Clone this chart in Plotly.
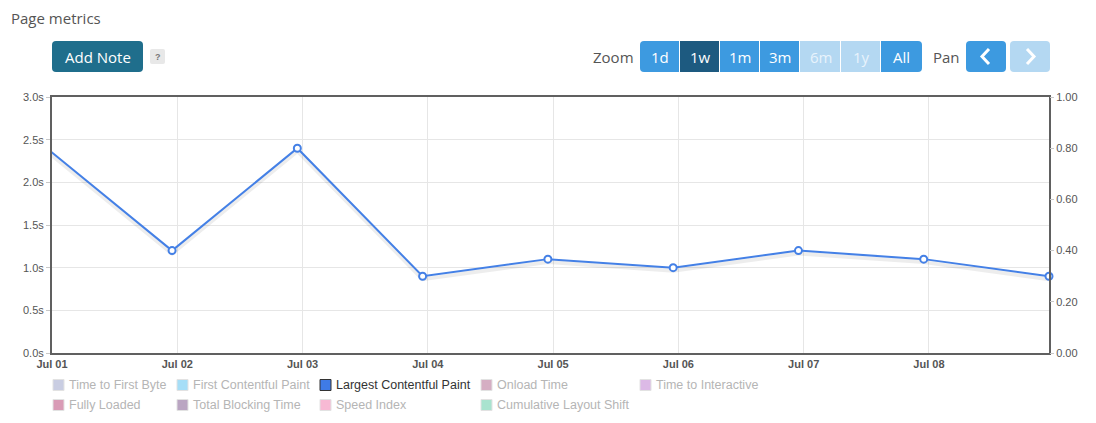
import plotly.graph_objects as go

# ---- data ----
dates = ["2023-06-30 23:00", "2023-07-01 23:00", "2023-07-02 23:00", "2023-07-03 23:00",
         "2023-07-04 23:00", "2023-07-05 23:00", "2023-07-06 23:00", "2023-07-07 23:00",
         "2023-07-08 23:00"]
lcp = [2.40, 1.20, 2.40, 0.90, 1.10, 1.00, 1.20, 1.10, 0.90]

legend_names = ["Time to First Byte", "First Contentful Paint", "Largest Contentful Paint",
                "Onload Time", "Time to Interactive", "Fully Loaded", "Total Blocking Time",
                "Speed Index", "Cumulative Layout Shift"]
legend_colors = ["#c9cde2", "#a6def7", "#3f7be6", "#d5aec3", "#dcb9e6", "#d99bb6",
                 "#baa5c2", "#f7b9d4", "#a9e3cf"]
legend_visible = [False, False, True, False, False, False, False, False, False]

zoom_labels = ["1d", "1w", "1m", "3m", "6m", "1y", "All"]
zoom_state = ["on", "active", "on", "on", "off", "off", "on"]

W, H = 1096, 423
L, R, T, B = 52, 1049, 97, 353


def px(x):
    return (x - L) / (R - L)


def py(y):
    return (B - y) / (B - T)


def rrect(x0, y0, x1, y1, r_tl=0, r_tr=0, r_br=0, r_bl=0):
    pts = []
    pts.append(f"M {px(x0 + r_tl)},{py(y0)}")
    pts.append(f"L {px(x1 - r_tr)},{py(y0)}")
    if r_tr:
        pts.append(f"Q {px(x1)},{py(y0)} {px(x1)},{py(y0 + r_tr)}")
    pts.append(f"L {px(x1)},{py(y1 - r_br)}")
    if r_br:
        pts.append(f"Q {px(x1)},{py(y1)} {px(x1 - r_br)},{py(y1)}")
    pts.append(f"L {px(x0 + r_bl)},{py(y1)}")
    if r_bl:
        pts.append(f"Q {px(x0)},{py(y1)} {px(x0)},{py(y1 - r_bl)}")
    pts.append(f"L {px(x0)},{py(y0 + r_tl)}")
    if r_tl:
        pts.append(f"Q {px(x0)},{py(y0)} {px(x0 + r_tl)},{py(y0)}")
    pts.append("Z")
    return " ".join(pts)


def label(text, x, y, size=15, color="#555", family="Open Sans", xanchor="center"):
    return dict(text=text, x=px(x), y=py(y), xref="paper", yref="paper",
                xanchor=xanchor, yanchor="middle", showarrow=False,
                font=dict(family=family, size=size, color=color))


fig = go.Figure()

LINE_COLOR = "#4480e6"

# faint shadow under the line
fig.add_trace(go.Scatter(x=dates, y=[v - 0.035 for v in lcp], mode="lines",
                         line=dict(color="rgba(0,0,0,0.07)", width=4),
                         hoverinfo="skip", showlegend=False))
fig.add_trace(go.Scatter(x=dates, y=lcp, mode="lines", name="Largest Contentful Paint",
                         line=dict(color=LINE_COLOR, width=2), showlegend=False))
fig.add_trace(go.Scatter(x=dates[1:], y=lcp[1:], mode="markers", cliponaxis=False,
                         marker=dict(size=7, color="white", line=dict(color=LINE_COLOR, width=2)),
                         showlegend=False, hoverinfo="skip"))
# empty trace to anchor right axis
fig.add_trace(go.Scatter(x=[None], y=[None], yaxis="y2", showlegend=False, hoverinfo="skip"))

shapes = []
annotations = []

# title
annotations.append(label("Page metrics", 9, 18, size=15, xanchor="left"))

# Add Note button
shapes.append(dict(type="path", path=rrect(52, 41, 143, 72, 4, 4, 4, 4), xref="paper", yref="paper",
                   fillcolor="#1f6e8c", line=dict(width=0), layer="below"))
annotations.append(label("Add Note", 97.5, 56.5, size=15, color="white"))
shapes.append(dict(type="path", path=rrect(150, 49, 165, 64, 2, 2, 2, 2), xref="paper", yref="paper",
                   fillcolor="#e8e8e8", line=dict(width=0), layer="below"))
annotations.append(label("<b>?</b>", 157.5, 56.5, size=9, color="#777", family="Liberation Sans"))

# Zoom buttons
annotations.append(label("Zoom", 636, 56.5, xanchor="right"))
colors = {"on": "#3d9ae0", "active": "#1d5a80", "off": "#b4d8f2"}
tcolors = {"on": "white", "active": "white", "off": "#e8f3fc"}
bx = [640, 680, 720, 760, 800, 841, 881, 922]
for i, (lab, st) in enumerate(zip(zoom_labels, zoom_state)):
    x0, x1 = bx[i], bx[i + 1]
    rl = 4 if i == 0 else 0
    rr = 4 if i == len(zoom_labels) - 1 else 0
    shapes.append(dict(type="path", path=rrect(x0, 41, x1 - (0 if rr else 1), 72, rl, rr, rr, rl),
                       xref="paper", yref="paper", fillcolor=colors[st], line=dict(width=0),
                       layer="below"))
    annotations.append(label(lab, (x0 + x1) / 2, 56.5, color=tcolors[st]))

# Pan buttons
annotations.append(label("Pan", 962, 56.5, xanchor="right"))
for (x0, x1, col, d) in [(966, 1006, "#3d9ae0", "<"), (1010, 1050, "#b4d8f2", ">")]:
    shapes.append(dict(type="path", path=rrect(x0, 41, x1, 72, 4, 4, 4, 4), xref="paper", yref="paper",
                       fillcolor=col, line=dict(width=0), layer="below"))
    cx = (x0 + x1) / 2
    if d == "<":
        pth = f"M {px(cx + 3)},{py(49)} L {px(cx - 4)},{py(56.5)} L {px(cx + 3)},{py(64)}"
    else:
        pth = f"M {px(cx - 3)},{py(49)} L {px(cx + 4)},{py(56.5)} L {px(cx - 3)},{py(64)}"
    shapes.append(dict(type="path", path=pth, xref="paper", yref="paper",
                       line=dict(color="white", width=3), layer="above"))

# custom legend
col_x = [53, 177, 320, 481, 640]
row_y = [385, 405]
for i, (name, c, vis) in enumerate(zip(legend_names, legend_colors, legend_visible)):
    r, k = divmod(i, 5)
    x0 = col_x[k]
    yc = row_y[r]
    shapes.append(dict(type="rect", x0=px(x0), x1=px(x0 + 11), y0=py(yc - 5.5), y1=py(yc + 5.5),
                       xref="paper", yref="paper", fillcolor=c,
                       line=dict(color="#333" if vis else "#e2e2e2", width=1)))
    annotations.append(label(name, x0 + 14, yc, size=12.5, family="Liberation Sans",
                             color="#333" if vis else "#b5b5b5", xanchor="left"))

fig.update_layout(
    width=W, height=H,
    margin=dict(l=L, r=W - R, t=T, b=H - B),
    paper_bgcolor="white", plot_bgcolor="white",
    showlegend=False,
    shapes=shapes, annotations=annotations,
    xaxis=dict(type="date", range=["2023-07-01 00:00", "2023-07-08 23:00"],
               dtick=86400000, tick0="2023-07-01", tickformat="%b %d",
               showgrid=True, gridcolor="#e6e6e6", gridwidth=1,
               showline=True, linecolor="#606060", linewidth=2, mirror=True,
               ticks="", zeroline=False,
               tickfont=dict(family="Liberation Sans", size=11, color="#555", weight="bold")),
    yaxis=dict(range=[0, 3], dtick=0.5, tickformat=".1f", ticksuffix="s",
               showgrid=True, gridcolor="#e6e6e6", zeroline=False,
               showline=True, linecolor="#606060", linewidth=2, mirror=True,
               ticks="outside", ticklen=4, tickcolor="#c8c8c8",
               tickfont=dict(family="Liberation Sans", size=11, color="#555")),
    yaxis2=dict(range=[0, 1], dtick=0.2, tickformat=".2f", overlaying="y", side="right",
                showgrid=False, zeroline=False, ticks="outside", ticklen=4, tickcolor="#c8c8c8",
                showline=False,
                tickfont=dict(family="Liberation Sans", size=11, color="#555")),
)

fig.write_html("out.html")
